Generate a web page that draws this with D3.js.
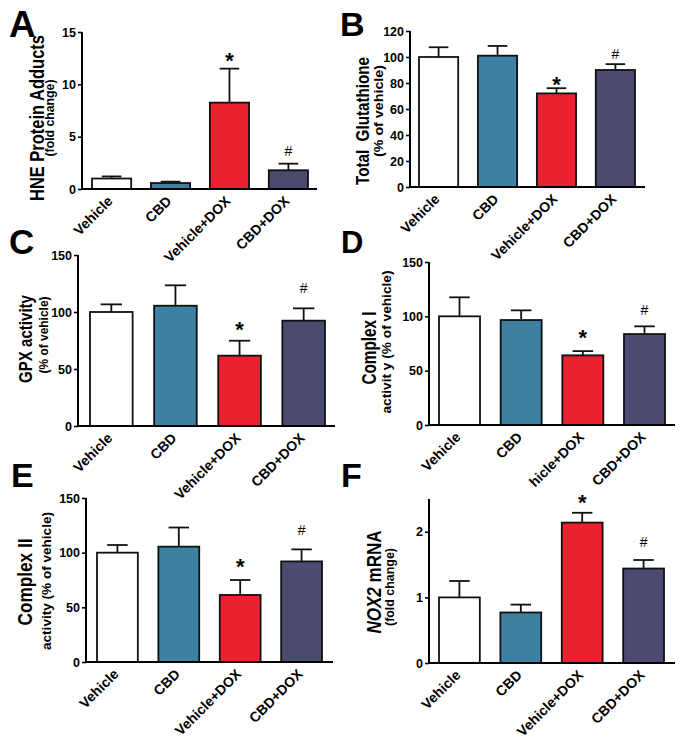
<!DOCTYPE html>
<html><head><meta charset="utf-8">
<script src="https://cdn.jsdelivr.net/npm/d3@7"></script>
<style>
html,body{margin:0;padding:0;background:#fff;}
svg{display:block;font-family:"Liberation Sans",Arial,Helvetica,sans-serif;}
</style></head>
<body><svg id="chart" width="686" height="744"></svg>
<script>
// ---------- data ----------
const categories = ["Vehicle", "CBD", "Vehicle+DOX", "CBD+DOX"];
const categoriesD = ["Vehicle", "CBD", "hicle+DOX", "CBD+DOX"];
const barColors = ["#ffffff", "#3d80a1", "#ea2130", "#4b4a70"];
const significance = ["", "", "*", "#"];

const hneMean = [1.0, 0.57, 8.25, 1.79];
const hneSem  = [0.2, 0.13, 3.25, 0.63];
const hneTicks = [0, 5, 10, 15];

const gshMean = [100, 101, 72, 90];
const gshSem  = [7.5, 7.5, 4, 4.5];
const gshTicks = [0, 20, 40, 60, 80, 100, 120];

const gpxMean = [100, 105.5, 61.7, 92.4];
const gpxSem  = [6.7, 17.9, 13.1, 10.8];
const gpxTicks = [0, 50, 100, 150];

const c1Mean = [100, 96.6, 64.1, 83.7];
const c1Sem  = [17.5, 8.9, 3.9, 7.1];
const c1Ticks = [0, 50, 100, 150];

const c2Mean = [100, 105.5, 61.3, 92];
const c2Sem  = [7, 17.5, 13.7, 11];
const c2Ticks = [0, 50, 100, 150];

const noxMean = [1.0, 0.77, 2.14, 1.44];
const noxSem  = [0.25, 0.12, 0.15, 0.13];
const noxTicks = [0, 1, 2];

// ---------- layout ----------
const panels = [
  {letter:"A", lx:9, ly:37, lsize:37, mean:hneMean, sem:hneSem, ticks:hneTicks, ymax:15,
   ax:82, y0:189, ytop:32, xend:317, b0:92, b1:308, labels:categories,
   t1:"HNE Protein Adducts", t1size:19.5, t1len:166, t1x:43.5, t1y:118,
   t2:"(fold change)", t2size:12.5, t2len:77, t2x:54, t2y:118,
   starGap:13, hashGap:8},
  {letter:"B", lx:340, ly:36, lsize:34, mean:gshMean, sem:gshSem, ticks:gshTicks, ymax:120,
   ax:410, y0:187, ytop:31, xend:645, b0:419, b1:635, labels:categories,
   t1:"Total\u00a0\u00a0Glutathione", t1size:18, t1len:128, t1x:369, t1y:121,
   t2:"(% of vehicle)", t2size:13.5, t2len:92, t2x:382.5, t2y:111,
   starGap:8, hashGap:5},
  {letter:"C", lx:9, ly:254, lsize:35, mean:gpxMean, sem:gpxSem, ticks:gpxTicks, ymax:150,
   ax:78, y0:426, ytop:255, xend:335, b0:90, b1:325, labels:categories,
   t1:"GPX activity", t1size:18, t1len:88, t1x:31.5, t1y:339,
   t2:"(% of vehicle)", t2size:13, t2len:77, t2x:48, t2y:335,
   starGap:16, hashGap:15},
  {letter:"D", lx:341, ly:253, lsize:31, mean:c1Mean, sem:c1Sem, ticks:c1Ticks, ymax:150,
   ax:429, y0:425, ytop:262, xend:675, b0:439, b1:665, labels:categoriesD,
   t1:"Complex I", t1size:20, t1len:73, t1x:376, t1y:348,
   t2:"activit y (% of vehicle)", t2size:13.5, t2len:143, t2x:390.5, t2y:342,
   starGap:18, hashGap:11},
  {letter:"E", lx:11, ly:487, lsize:34, mean:c2Mean, sem:c2Sem, ticks:c2Ticks, ymax:150,
   ax:86, y0:662, ytop:498, xend:333, b0:97, b1:322, labels:categories,
   t1:"Complex II", t1size:20, t1len:87, t1x:32, t1y:582,
   t2:"activity (% of vehicle)", t2size:13.5, t2len:138, t2x:50.5, t2y:581,
   starGap:18, hashGap:14},
  {letter:"F", lx:341, ly:487, lsize:34, mean:noxMean, sem:noxSem, ticks:noxTicks, ymax:2.5,
   ax:429, y0:663, ytop:499, xend:675, b0:439, b1:664, labels:categories,
   t1:"NOX2", t1size:20, t1len:103, t1x:381, t1y:582,
   t2:"(fold change)", t2size:12.5, t2len:78, t2x:393.5, t2y:587,
   starGap:15, hashGap:13, italicTitle:true}
];

const svg = d3.select("#chart");

panels.forEach(p => {
  const g = svg.append("g");
  const x = d3.scaleBand().domain(d3.range(categories.length)).range([p.b0, p.b1])
              .paddingInner(0.335).paddingOuter(0);
  const y = d3.scaleLinear().domain([0, p.ymax]).range([p.y0, p.ytop]);

  // panel letter
  g.append("text").attr("x", p.lx).attr("y", p.ly)
    .attr("font-size", p.lsize).attr("font-weight", "bold").text(p.letter);

  // y axis
  const yAxis = d3.axisLeft(y).tickValues(p.ticks).tickSize(4).tickPadding(2)
                  .tickFormat(d3.format("~g"));
  const ya = g.append("g").attr("transform", `translate(${p.ax},0)`).call(yAxis);
  ya.select(".domain").attr("stroke-width", 2).attr("d", `M0,${p.y0}V${p.ytop}`);
  ya.selectAll(".tick line").attr("stroke-width", 1.6);
  ya.selectAll(".tick text").attr("font-size", 12.5).attr("font-weight", "bold")
    .attr("font-family", "Liberation Sans, Arial, sans-serif").attr("fill", "#000");

  // bars
  const idx = d3.range(categories.length);
  g.selectAll("rect.bar").data(idx).join("rect")
    .attr("x", i => x(i)).attr("width", x.bandwidth())
    .attr("y", i => y(p.mean[i])).attr("height", i => p.y0 - y(p.mean[i]))
    .attr("fill", i => barColors[i]).attr("stroke", "#111").attr("stroke-width", 1.8);

  // error bars (upper)
  const capW = x.bandwidth() * 0.5;
  idx.forEach(i => {
    const cx = x(i) + x.bandwidth() / 2;
    const yt = y(p.mean[i] + p.sem[i]);
    g.append("line").attr("x1", cx).attr("x2", cx).attr("y1", y(p.mean[i])).attr("y2", yt)
      .attr("stroke", "#111").attr("stroke-width", 1.8);
    g.append("line").attr("x1", cx - capW / 2).attr("x2", cx + capW / 2).attr("y1", yt).attr("y2", yt)
      .attr("stroke", "#111").attr("stroke-width", 1.8);
    const s = significance[i];
    if (s === "*") {
      g.append("text").attr("x", cx).attr("y", yt - p.starGap + 12)
        .attr("text-anchor", "middle").attr("font-size", 22).attr("font-weight", "bold").text("*");
    } else if (s === "#") {
      g.append("text").attr("x", cx).attr("y", yt - p.hashGap)
        .attr("text-anchor", "middle").attr("font-size", 14).text("#");
    }
    // x category label
    g.append("text")
      .attr("transform", `translate(${cx + 2},${p.y0 + 13}) rotate(-45)`)
      .attr("text-anchor", "end").attr("font-size", 14).attr("font-weight", "bold")
      .text(p.labels[i]);
  });

  // x axis line
  g.append("line").attr("x1", p.ax - 1).attr("x2", p.xend).attr("y1", p.y0).attr("y2", p.y0)
    .attr("stroke", "#000").attr("stroke-width", 2);

  // y titles
  const t1 = g.append("text")
    .attr("transform", `translate(${p.t1x},${p.t1y}) rotate(-90)`)
    .attr("text-anchor", "middle").attr("font-size", p.t1size).attr("font-weight", "bold")
    .attr("textLength", p.t1len).attr("lengthAdjust", "spacingAndGlyphs");
  if (p.italicTitle) {
    t1.append("tspan").attr("font-style", "italic").text(p.t1);
    t1.append("tspan").text(" mRNA");
  } else {
    t1.text(p.t1);
  }
  g.append("text")
    .attr("transform", `translate(${p.t2x},${p.t2y}) rotate(-90)`)
    .attr("text-anchor", "middle").attr("font-size", p.t2size).attr("font-weight", "bold")
    .attr("textLength", p.t2len).attr("lengthAdjust", "spacingAndGlyphs")
    .text(p.t2);
});
</script>
</body></html>
